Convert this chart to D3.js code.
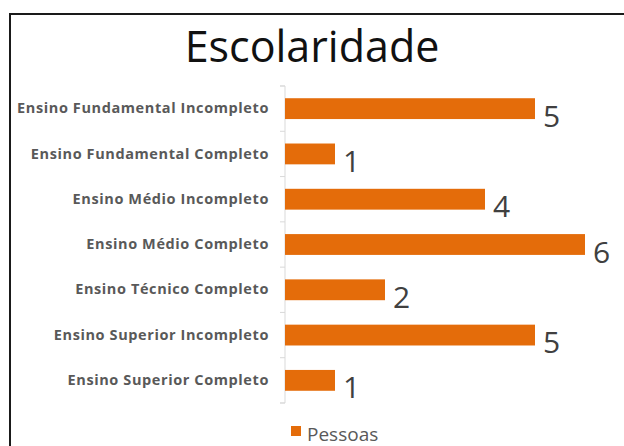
<!DOCTYPE html>
<html>
<head>
<meta charset="utf-8">
<script src="https://cdn.jsdelivr.net/npm/d3@7"></script>
<style>
  body { margin: 0; background: #fff; }
  text { font-family: "Open Sans", sans-serif; }
</style>
</head>
<body>
<div id="chart"></div>
<script>
        // Data
        const categories = [
            "Ensino Fundamental Incompleto",
            "Ensino Fundamental Completo",
            "Ensino Médio Incompleto",
            "Ensino Médio Completo",
            "Ensino Técnico Completo",
            "Ensino Superior Incompleto",
            "Ensino Superior Completo"
        ];
        const pessoas = [5, 1, 4, 6, 2, 5, 1];
        const seriesName = "Pessoas";
        const title = "Escolaridade";

        const width = 624;
        const height = 446;
        const orange = "#E46C0A";

        const svg = d3.select("#chart")
            .append("svg")
            .attr("width", width)
            .attr("height", height);

        // Frame around the chart (runs off right and bottom edges)
        svg.append("rect")
            .attr("x", 10)
            .attr("y", 14)
            .attr("width", 640)
            .attr("height", 460)
            .attr("fill", "none")
            .attr("stroke", "#1a1a1a")
            .attr("stroke-width", 2);

        // Title
        svg.append("text")
            .attr("x", 312)
            .attr("y", 62)
            .attr("text-anchor", "middle")
            .attr("font-size", 43)
            .attr("fill", "#111")
            .text(title);

        // Scales
        const x = d3.scaleLinear()
            .domain([0, 6])
            .range([285, 585]);

        const y = d3.scaleBand()
            .domain(categories)
            .range([86, 403])
            .paddingInner(0.54)
            .paddingOuter(0.27);

        // Category axis
        const yAxis = d3.axisLeft(y)
            .tickSize(0)
            .tickPadding(16);

        const gy = svg.append("g")
            .attr("transform", `translate(${x(0)},0)`)
            .call(yAxis);

        gy.select(".domain")
            .attr("stroke", "#d9d9d9")
            .attr("d", `M-5,86H0V403H-5`);

        gy.selectAll(".tick text")
            .attr("font-family", "Open Sans, sans-serif")
            .attr("font-weight", "bold")
            .attr("font-size", 14.5)
            .attr("letter-spacing", 0.6)
            .attr("fill", "#595959");

        // Tick marks between categories
        const bounds = d3.range(categories.length + 1)
            .map(i => 86 + i * (403 - 86) / categories.length);
        svg.append("g")
            .selectAll("line")
            .data(bounds)
            .enter()
            .append("line")
            .attr("x1", x(0) - 5)
            .attr("x2", x(0))
            .attr("y1", d => d)
            .attr("y2", d => d)
            .attr("stroke", "#d9d9d9");

        // Bars
        svg.append("g")
            .selectAll("rect")
            .data(pessoas)
            .enter()
            .append("rect")
            .attr("x", x(0))
            .attr("y", (d, i) => y(categories[i]))
            .attr("width", d => x(d) - x(0))
            .attr("height", y.bandwidth())
            .attr("fill", orange);

        // Value labels
        svg.append("g")
            .selectAll("text")
            .data(pessoas)
            .enter()
            .append("text")
            .attr("x", d => x(d) + 8)
            .attr("y", (d, i) => y(categories[i]) + y.bandwidth() / 2 + 18)
            .attr("font-size", 30)
            .attr("fill", "#404040")
            .text(d => d);

        // Legend
        const legend = svg.append("g");
        legend.append("rect")
            .attr("x", 291)
            .attr("y", 426)
            .attr("width", 10)
            .attr("height", 10)
            .attr("fill", orange);
        legend.append("text")
            .attr("x", 307)
            .attr("y", 441)
            .attr("font-size", 19)
            .attr("fill", "#595959")
            .text(seriesName);
</script>
</body>
</html>
